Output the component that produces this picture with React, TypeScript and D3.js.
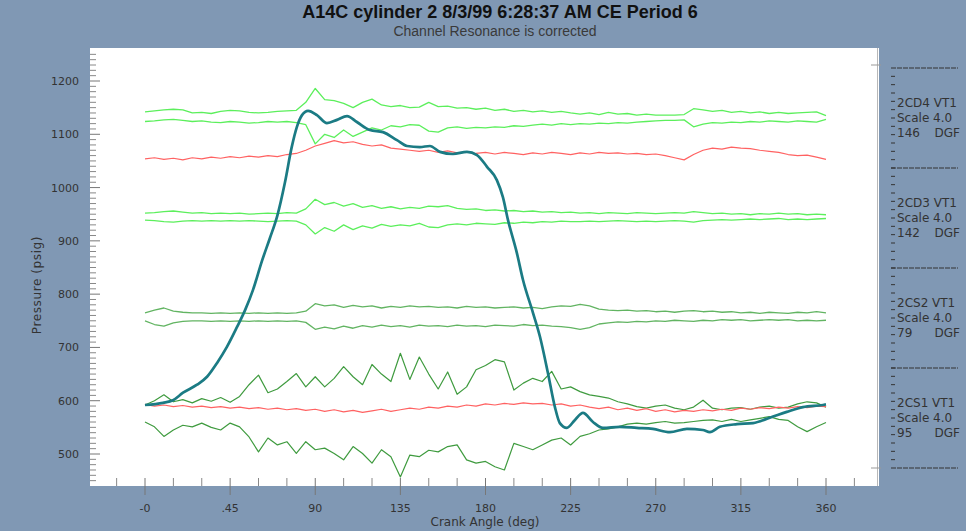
import * as d3 from 'd3'

// crank angle grid shared by the vibration / pressure channel traces
const angles = [
  0, 5, 10, 15, 20, 25, 30, 35, 40, 45, 50, 55, 60, 65, 70, 75, 80, 85, 90, 95,
  100, 105, 110, 115, 120, 125, 130, 135, 140, 145, 150, 155, 160, 165, 170, 175, 180, 185, 190, 195,
  200, 205, 210, 215, 220, 225, 230, 235, 240, 245, 250, 255, 260, 265, 270, 275, 280, 285, 290, 295,
  300, 305, 310, 315, 320, 325, 330, 335, 340, 345, 350, 355, 360
]

// 2CD4 VT1 envelope
const cd4Upper = [
  1142, 1144, 1146, 1147, 1146, 1140, 1141, 1139, 1143, 1145,
  1144, 1141, 1140, 1141, 1143, 1144, 1145, 1160, 1186, 1165,
  1163, 1158, 1150, 1160, 1166, 1155, 1152, 1154, 1150, 1151,
  1160, 1152, 1153, 1149, 1150, 1147, 1149, 1145, 1147, 1143,
  1145, 1142, 1144, 1141, 1143, 1140, 1138, 1140, 1137, 1141,
  1138, 1139, 1136, 1138, 1136, 1136, 1136, 1137, 1148, 1146,
  1143, 1145, 1141, 1143, 1140, 1142, 1139, 1141, 1139, 1140,
  1141, 1142, 1135
]
const cd4Lower = [
  1124, 1125, 1127, 1128, 1126, 1124, 1125, 1123, 1122, 1124,
  1123, 1121, 1122, 1124, 1123, 1124, 1122, 1118, 1082, 1100,
  1094, 1108, 1096, 1104, 1112, 1108, 1116, 1114, 1118, 1117,
  1106, 1104, 1112, 1114, 1111, 1113, 1112, 1114, 1113, 1116,
  1115, 1117, 1119, 1117, 1120, 1118, 1120, 1119, 1121, 1120,
  1122, 1121, 1123, 1124, 1125, 1126, 1126, 1127, 1114, 1119,
  1122, 1121, 1123, 1122, 1124, 1123, 1125, 1124, 1123, 1125,
  1124, 1123, 1128
]

// 2CD3 VT1 envelope
const cd3Upper = [
  952, 953, 955, 956, 954, 952, 953, 951, 952, 951,
  952, 950, 951, 952, 951, 953, 952, 960, 978, 968,
  972, 965, 970, 963, 966, 961, 964, 960, 963, 961,
  965, 964, 966, 961, 959, 960, 957, 958, 956, 957,
  955, 956, 954, 955, 953, 954, 952, 953, 951, 953,
  952, 951, 953, 952, 951, 952, 953, 952, 955, 953,
  951, 952, 950, 951, 949, 951, 950, 952, 950, 951,
  949, 950, 949
]
const cd3Lower = [
  939, 938, 936, 935, 937, 938, 937, 938, 937, 938,
  937, 938, 937, 936, 937, 938, 937, 930, 913, 925,
  918, 930, 921, 928, 924, 931, 927, 930, 928, 933,
  926, 925, 930, 932, 930, 933, 932, 931, 934, 933,
  935, 934, 936, 935, 937, 936, 936, 937, 936, 937,
  938, 937, 936, 937, 936, 937, 938, 937, 935, 938,
  939, 940, 939, 940, 941, 940, 941, 942, 940, 941,
  940, 941, 942
]

// 2CS2 VT1 envelope
const cs2Upper = [
  765, 770, 774, 768, 766, 765, 765, 764, 765, 764,
  765, 764, 765, 764, 765, 764, 765, 768, 782, 778,
  780, 775, 779, 776, 778, 774, 777, 775, 778, 776,
  777, 775, 776, 774, 777, 775, 776, 774, 775, 776,
  774, 775, 773, 776, 778, 777, 781, 778, 772, 770,
  769, 770, 768, 769, 767, 768, 766, 768, 769, 767,
  768, 766, 767, 765, 766, 764, 766, 765, 764, 766,
  765, 767, 765
]
const cs2Lower = [
  750, 743, 740, 746, 749, 750, 750, 749, 750, 749,
  750, 749, 750, 749, 750, 749, 750, 747, 734, 738,
  735, 740, 736, 741, 738, 742, 739, 741, 738, 742,
  740, 741, 739, 742, 740, 741, 739, 742, 741, 740,
  743, 741, 742, 740, 739, 737, 734, 737, 744, 746,
  748, 747, 749, 748, 750, 749, 751, 750, 749, 751,
  750, 752, 751, 752, 750, 751, 752, 751, 752, 750,
  751, 750, 751
]

// 2CS1 VT1 envelope
const cs1Upper = [
  592, 600, 611, 598, 602, 596, 604, 599, 606, 597,
  608, 630, 648, 615, 622, 636, 651, 626, 645, 626,
  642, 664, 645, 630, 668, 650, 636, 689, 640, 682,
  650, 622, 654, 612, 626, 658, 666, 677, 673, 620,
  633, 642, 636, 655, 622, 626, 617, 611, 608, 605,
  598, 594, 589, 586, 590, 592, 586, 583, 588, 601,
  586, 583, 586, 587, 584, 588, 590, 586, 588, 594,
  598, 596, 588
]
const cs1Lower = [
  560, 551, 533, 545, 554, 551, 558, 550, 545, 558,
  551, 532, 504, 530, 517, 523, 501, 523, 508, 511,
  501, 489, 514, 501, 483, 508, 495, 457, 498, 495,
  507, 504, 514, 517, 489, 483, 486, 476, 470, 520,
  514, 508, 517, 526, 530, 517, 533, 538, 545, 547,
  551, 556, 558, 556, 559, 561, 558, 559, 561, 563,
  564, 561, 565, 561, 564, 567, 570, 565, 563, 551,
  542, 551, 559
]

// red reference traces
const headRef = [
  1054, 1056, 1053, 1055, 1052, 1056, 1054, 1057, 1055, 1058,
  1056, 1059, 1057, 1060, 1058, 1062, 1064, 1070, 1078, 1083,
  1088, 1084, 1086, 1081, 1078, 1080, 1074, 1072, 1070, 1068,
  1070, 1066, 1069, 1065, 1067, 1064, 1066, 1063, 1066, 1064,
  1062, 1065, 1063, 1066, 1064, 1062, 1065, 1063, 1066, 1064,
  1065, 1063, 1064, 1062, 1063, 1060, 1056, 1052, 1062, 1070,
  1074, 1072, 1076, 1074, 1073, 1070, 1068, 1066, 1062, 1060,
  1061, 1057, 1053
]
const suctionRef = [
  593, 590, 592, 589, 591, 588, 590, 587, 589, 586,
  588, 585, 587, 584, 586, 583, 585, 582, 584, 580,
  583, 579, 582, 578, 581, 584, 580, 583, 586, 584,
  588, 586, 590, 588, 592, 590, 594, 592, 595, 593,
  596, 594, 595, 592, 594, 590, 592, 588, 585, 588,
  583, 586, 582, 585, 580, 583, 579, 582, 580, 583,
  581, 584, 582, 586, 584, 587, 585, 588, 586, 589,
  587, 590, 589
]

// cylinder pressure curve
const pressureAngles = [
  0, 9.5, 14.8, 20.1, 27.5, 32.8, 38.1, 43.3, 48.6, 52.9,
  57.1, 61.8, 66, 70, 74, 77.5, 80.3, 83, 86.2, 90.9, 96.2, 101.5,
  106.8, 112, 118.9, 125.8, 133.2, 138.5, 145.3, 150.6, 155.9, 162.8,
  170.2, 175.5, 180.8, 186, 189.2, 191.9, 196.6, 199.8, 205.1, 208.8,
  213, 216.7, 219.3, 223, 227.3, 231.5, 236.8, 242.1, 251, 260,
  268.5, 277.5, 286.5, 294.9, 298.6, 303.9, 312.9, 321.4, 330.3, 339.3,
  347.8, 358.4, 360
]
const pressure = [
  592, 596, 601, 615, 630, 645, 671, 701, 738, 770,
  808, 862, 905, 948, 1010, 1075, 1114, 1136, 1144, 1136, 1121, 1127,
  1134, 1123, 1108, 1104, 1089, 1078, 1076, 1078, 1067, 1063,
  1067, 1061, 1039, 1014, 982, 939, 877, 827, 765, 720,
  652, 588, 558, 549, 564, 577, 560, 549, 551, 549,
  547, 541, 547, 545, 541, 551, 556, 558, 568, 579,
  588, 592, 593
]

const xTickValues = [0, 45, 90, 135, 180, 225, 270, 315, 360]
const xTickLabels = ['-0', '.45', '90', '135', '180', '225', '270', '315', '360']
const yTickValues = [500, 600, 700, 800, 900, 1000, 1100, 1200]

const channelNames = ['2CD4 VT1', '2CD3 VT1', '2CS2 VT1', '2CS1 VT1']
const channelScales = ['Scale 4.0', 'Scale 4.0', 'Scale 4.0', 'Scale 4.0']
const channelAngles = ['146', '142', '79', '95']

export default function App() {
  const width = 966
  const height = 531
  const plot = { left: 90, right: 879, top: 48, bottom: 486 }
  const bg = '#8098b4'
  const ink = '#333'
  const tickFont = 'DejaVu Sans, sans-serif'

  const x = d3.scaleLinear().domain([0, 360]).range([145, 826])
  const y = d3.scaleLinear().domain([500, 1200]).range([454, 81])

  const trace = d3.line<number>()
    .x((_, i) => x(angles[i]))
    .y(d => y(d))
  const pressureLine = d3.line<number>()
    .x((_, i) => x(pressureAngles[i]))
    .y(d => y(d))
    .curve(d3.curveMonotoneX)

  const traces = [
    { data: cs1Upper, color: '#3f9b3f', w: 1.2 },
    { data: cs1Lower, color: '#3f9b3f', w: 1.2 },
    { data: cs2Upper, color: '#62b462', w: 1.3 },
    { data: cs2Lower, color: '#62b462', w: 1.3 },
    { data: cd3Upper, color: '#5cef5c', w: 1.3 },
    { data: cd3Lower, color: '#5cef5c', w: 1.3 },
    { data: cd4Upper, color: '#5cef5c', w: 1.3 },
    { data: cd4Lower, color: '#5cef5c', w: 1.3 },
    { data: headRef, color: '#ff6262', w: 1.2 },
    { data: suctionRef, color: '#ff6262', w: 1.2 },
  ]

  const xMinor = d3.range(-15, 376, 15).filter(v => v % 45 !== 0)
  const yMinor = d3.range(450, 1260, 10).filter(v => v % 100 !== 0)

  // right hand channel panel
  const panelTop = 68
  const sectionH = 100
  const panelX = 891
  const panelTicks = d3.range(panelTop + sectionH / 12, panelTop + 4 * sectionH, sectionH / 12)
  const separators = d3.range(0, 5).map(i => panelTop + i * sectionH)

  return (
    <div style={{ position: 'absolute', left: 0, top: 0 }}>
      <svg width={width} height={height} style={{ display: 'block' }}>
        <rect x={0} y={0} width={width} height={height} fill={bg} />
        <rect x={plot.left} y={plot.top} width={plot.right - plot.left} height={plot.bottom - plot.top} fill="#fff" />
        <line x1={plot.right - 1.5} x2={plot.right - 1.5} y1={plot.top} y2={plot.bottom} stroke="#b8b8b8" />

        <text x={500} y={18} textAnchor="middle" fontFamily="Liberation Sans, Arial, sans-serif" fontWeight="bold" fontSize={18} fill="#111">
          A14C cylinder 2 8/3/99 6:28:37 AM CE Period 6
        </text>
        <text x={495} y={36} textAnchor="middle" fontFamily="Liberation Sans, Arial, sans-serif" fontSize={14} fill="#3a3a3a">
          Channel Resonance is corrected
        </text>

        {/* y axis */}
        {yMinor.map(v => (
          <line key={'ym' + v} x1={plot.left} x2={plot.left + 6} y1={y(v)} y2={y(v)} stroke="#888" />
        ))}
        {yTickValues.map(v => (
          <g key={'y' + v}>
            <line x1={plot.left} x2={plot.left + 10} y1={y(v)} y2={y(v)} stroke="#777" />
            <text x={79} y={y(v)} dy="0.36em" textAnchor="end" fontFamily={tickFont} fontSize={11} fill={ink}>{v}</text>
          </g>
        ))}
        <text transform={`translate(41,${285}) rotate(-90)`} textAnchor="middle" fontFamily={tickFont} fontSize={12} letterSpacing={0.6} fill={ink}>
          Pressure (psig)
        </text>

        {/* x axis */}
        {xMinor.map(v => (
          <line key={'xm' + v} x1={x(v)} x2={x(v)} y1={plot.bottom - 8} y2={plot.bottom} stroke="#888" />
        ))}
        {xTickValues.map((v, i) => (
          <g key={'x' + v}>
            <line x1={x(v)} x2={x(v)} y1={plot.bottom - 8} y2={plot.bottom + 9} stroke="#777" />
            <text x={x(v)} y={512} textAnchor="middle" fontFamily={tickFont} fontSize={11} fill={ink}>{xTickLabels[i]}</text>
          </g>
        ))}
        <text x={485} y={526} textAnchor="middle" fontFamily={tickFont} fontSize={12} fill={ink}>
          Crank Angle (deg)
        </text>

        {/* channel traces */}
        {traces.map((t, i) => (
          <path key={'t' + i} d={trace(t.data) || ''} fill="none" stroke={t.color} strokeWidth={t.w} strokeLinejoin="round" />
        ))}
        <path d={pressureLine(pressure) || ''} fill="none" stroke="#1b7b84" strokeWidth={2.7} strokeLinejoin="round" />

        {/* channel panel */}
        <line x1={plot.right - 8} x2={plot.right + 2} y1={panelTop - 3} y2={panelTop - 3} stroke="#999" />
        <line x1={plot.right - 8} x2={plot.right + 2} y1={panelTop + 4 * sectionH} y2={panelTop + 4 * sectionH} stroke="#999" />
        {panelTicks.map((t, i) => (
          <line key={'pt' + i} x1={panelX} x2={panelX + 4} y1={t} y2={t} stroke={ink} />
        ))}
        {separators.map(s => (
          <line key={'s' + s} x1={panelX} x2={958} y1={s} y2={s} stroke={ink} strokeDasharray="5,1" />
        ))}
        {channelNames.map((name, i) => {
          const top = panelTop + i * sectionH
          return (
            <g key={name} fontFamily={tickFont} fontSize={12} fill={ink}>
              <text x={897} y={top + 35} dy="0.36em">{name}</text>
              <text x={897} y={top + 50} dy="0.36em">{channelScales[i]}</text>
              <text x={897} y={top + 65} dy="0.36em">{channelAngles[i]}</text>
              <text x={960} y={top + 65} dy="0.36em" textAnchor="end">DGF</text>
            </g>
          )
        })}
      </svg>
    </div>
  )
}
